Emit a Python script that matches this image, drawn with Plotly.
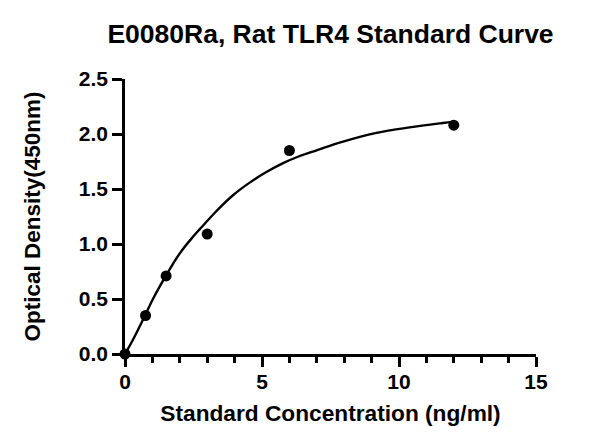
import plotly.graph_objects as go

# standard points
conc = [0, 0.75, 1.5, 3, 6, 12]
od = [0, 0.35, 0.71, 1.09, 1.85, 2.08]

# fitted curve
fit_x = [0, 0.29, 0.75, 1.02, 1.49, 2.0, 2.48, 2.73, 3.34, 3.94, 4.55, 5.16, 5.77, 6.38,
         6.99, 7.47, 7.96, 9.18, 10.39, 11.6, 12.0]
fit_y = [0, 0.13, 0.36, 0.50, 0.71, 0.915, 1.065, 1.135, 1.30, 1.443, 1.558, 1.654, 1.735, 1.80,
         1.852, 1.892, 1.931, 2.01, 2.06, 2.10, 2.112]

font = "Arial, Liberation Sans, sans-serif"

fig = go.Figure()
fig.add_trace(go.Scatter(x=fit_x, y=fit_y, mode='lines', line=dict(color='black', width=2.4, shape='spline'),
                         cliponaxis=False, showlegend=False))
fig.add_trace(go.Scatter(x=conc, y=od, mode='markers', marker=dict(color='black', size=11),
                         cliponaxis=False, showlegend=False))

# page has an 8px body margin, so margins are shifted
fig.update_layout(
    width=600, height=446,
    margin=dict(l=117, r=72, t=71, b=100),
    paper_bgcolor='white', plot_bgcolor='white',
    font=dict(family=font, color='black', weight='bold'),
    title=dict(text='E0080Ra, Rat TLR4 Standard Curve', x=0.5, xref='paper', y=0.942, yref='container',
               xanchor='center', yanchor='middle', font=dict(size=26.5, color='black', weight='bold')),
)
fig.update_xaxes(range=[0, 15], tickvals=[0, 5, 10, 15], ticks='outside', ticklen=10, tickwidth=2.5,
                 tickcolor='black', showline=True, linecolor='black', linewidth=2.5, showgrid=False,
                 zeroline=False, tickfont=dict(size=21, family=font, weight='bold'), ticklabelstandoff=-3,
                 minor=dict(dtick=1, ticks='outside', ticklen=6, tickwidth=2.5, tickcolor='black', showgrid=False),
                 title=dict(text='Standard Concentration (ng/ml)', font=dict(size=22.7, weight='bold'), standoff=14))
fig.update_yaxes(range=[0, 2.5], tickvals=[0, 0.5, 1, 1.5, 2, 2.5], tickformat='.1f', ticks='outside', ticklen=10,
                 tickwidth=2.5, tickcolor='black', showline=True, linecolor='black', linewidth=2.5,
                 showgrid=False, zeroline=False, tickfont=dict(size=21, family=font, weight='bold'),
                 title=dict(text='Optical Density(450nm)', font=dict(size=22.5, weight='bold'), standoff=32))

fig.write_html("out.html")
